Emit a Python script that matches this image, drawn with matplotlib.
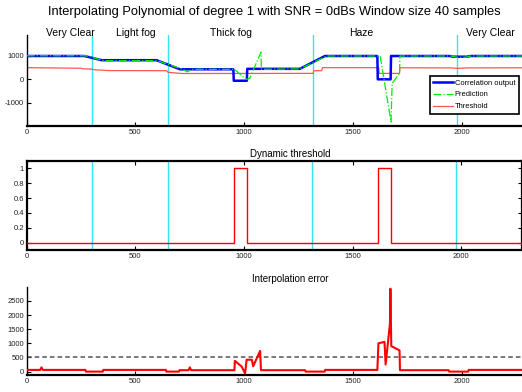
import matplotlib
matplotlib.use("Agg")
import matplotlib.pyplot as plt
import matplotlib.transforms as mtrans

plt.rcParams['font.family'] = ['Liberation Sans', 'DejaVu Sans']
plt.rcParams['axes.unicode_minus'] = False

# --- data (sample index vs value) ---
regions = ['Very Clear', 'Light fog', 'Thick fog', 'Haze', 'Very Clear']
region_centers = [199, 502, 938, 1540, 2133]
region_bounds = [300, 651, 1315, 1977]

corr_x = [0, 265, 345, 597, 705, 950, 952, 1012, 1014, 1256, 1371, 1612, 1614, 1673, 1675,
          1945, 1960, 2025, 2040, 2280]
corr_y = [1000, 1000, 820, 820, 430, 430, -60, -60, 450, 450, 1000, 1000, 0, 0, 1000,
          1000, 970, 970, 1000, 1000]

pred_x = [0, 270, 355, 600, 720, 738, 760, 955, 990, 1010, 1025, 1077, 1079, 1256, 1380,
          1625, 1675, 1680, 1714, 1716, 1950, 1975, 2020, 2040, 2280]
pred_y = [1010, 1010, 800, 800, 420, 320, 430, 430, 150, 0, 40, 1160, 430, 450, 1000,
          1000, -1830, -170, 260, 1000, 1000, 950, 950, 1000, 1000]

thr_x = [0, 250, 260, 300, 310, 380, 643, 650, 715, 1317, 1320, 1356, 1360, 1618, 1620,
         1714, 1716, 1950, 1980, 2030, 2280]
thr_y = [500, 475, 450, 440, 410, 375, 370, 300, 250, 255, 370, 370, 500, 500, 255,
         255, 495, 490, 470, 490, 495]

dyn_x = [0, 955, 1014, 1617, 1675, 2280]
dyn_y = [0, 1, 0, 1, 0, 0]

err_x = [0, 62, 68, 74, 270, 272, 350, 352, 640, 642, 700, 702, 744, 750, 756, 955, 957, 988,
         1004, 1011, 1035, 1041, 1073, 1077, 1280, 1282, 1370, 1372, 1612, 1617, 1645,
         1650, 1670, 1672, 1676, 1714, 1716, 1940, 1942, 2030, 2032, 2280]
err_y = [60, 60, 150, 60, 60, 0, 0, 60, 60, 0, 0, 50, 50, 150, 50, 50, 380, 180,
         -60, 420, 420, 190, 730, 50, 50, 0, 0, 60, 60, 1000, 1050,
         250, 1700, 2930, 900, 750, 50, 50, 0, 0, 60, 60]
err_limit = 500

fig = plt.figure(figsize=(5.22, 3.92), dpi=100)
W, H = 522.0, 392.0


def axes_px(left, top, right, bottom):
    return fig.add_axes([left / W, 1 - bottom / H, (right - left) / W, (bottom - top) / H])


ax1 = axes_px(26.7, 35, 522, 126)
ax2 = axes_px(26.7, 161, 521.5, 250)
ax3 = axes_px(26.7, 286.7, 522, 375)

for ax in (ax1, ax2, ax3):
    ax.set_xlim(0, 2277)
    ax.set_xticks([0, 500, 1000, 1500, 2000])
    ax.tick_params(direction='in', length=3, width=0.8, labelsize=5.5, pad=2,
                   colors='black', labelcolor='#222222')

for ax in (ax1, ax3):
    ax.spines['top'].set_visible(False)
    ax.spines['right'].set_visible(False)
    ax.spines['left'].set_linewidth(1.0)
    ax.spines['bottom'].set_linewidth(1.6)
for s in ax2.spines.values():
    s.set_linewidth(1.6)
ax2.tick_params(right=True, top=True)

# --- top: correlation output, prediction, threshold ---
for b in region_bounds:
    ax1.axvline(b, color='#33e6ee', lw=1.0, zorder=1)
    ax2.axvline(b, color='#33e6ee', lw=1.0, zorder=1)
ax1.plot(corr_x, corr_y, color='#0000ff', lw=1.8, label='Correlation output', zorder=3)
ax1.plot(pred_x, pred_y, color='#00ee00', lw=0.9, ls='-.', label='Prediction', zorder=4)
ax1.plot(thr_x, thr_y, color='#ff5555', lw=0.9, label='Threshold', zorder=2)
ax1.set_ylim(-2000, 1900)
ax1.set_yticks([-1000, 0, 1000])

trans = mtrans.blended_transform_factory(ax1.transData, ax1.transAxes)
for name, xc in zip(regions, region_centers):
    ax1.text(xc, 1.02, name, transform=trans, ha='center', va='center',
             fontsize=7.5, clip_on=False)

leg = ax1.legend(loc='upper left', bbox_to_anchor=(430 / W, 1 - 76 / H),
                 bbox_transform=fig.transFigure, borderaxespad=0, fontsize=5.4,
                 fancybox=False, framealpha=1, edgecolor='black', handlelength=2.6,
                 handletextpad=0.25, labelspacing=0.6, borderpad=0.45)
leg.get_frame().set_linewidth(1.2)

# --- middle: dynamic threshold flag ---
ax2.plot(dyn_x, dyn_y, color='red', lw=1.0, drawstyle='steps-post', zorder=3)
ax2.set_ylim(-0.1, 1.1)
ax2.set_yticks([0, 0.2, 0.4, 0.6, 0.8, 1])
ax2.set_yticklabels(['0', '0.2', '0.4', '0.6', '0.8', '1'])

# --- bottom: interpolation error ---
ax3.plot(err_x, err_y, color='red', lw=1.5, zorder=3)
ax3.axhline(err_limit, color='#555555', lw=1.1, ls=(0, (3, 2)), zorder=2)
ax3.set_ylim(-120, 3000)
ax3.set_yticks([0, 500, 1000, 1500, 2000, 2500])

fig.text(274 / W, 1 - 12 / H,
         'Interpolating Polynomial of degree 1 with SNR = 0dBs Window size 40 samples',
         ha='center', va='center', fontsize=9.3)
fig.text(290 / W, 1 - 154 / H, 'Dynamic threshold', ha='center', va='center', fontsize=7)
fig.text(290 / W, 1 - 279.3 / H, 'Interpolation error', ha='center', va='center', fontsize=7)

fig.savefig('out.png', dpi=100)
